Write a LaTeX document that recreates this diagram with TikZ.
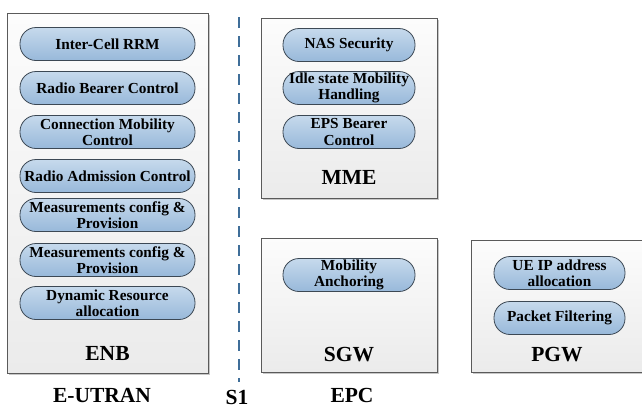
\documentclass[tikz,border=0pt]{standalone}
\usepackage{fontspec}
\setmainfont{Liberation Serif}[BoldFont={Liberation Serif Bold}]
\usetikzlibrary{shadows}
\definecolor{boxline}{HTML}{5A5A5A}
\definecolor{boxtop}{HTML}{FCFCFC}
\definecolor{boxbot}{HTML}{EBEBEB}
\definecolor{pilltop}{HTML}{C6D9EC}
\definecolor{pillbot}{HTML}{98B9DA}
\definecolor{pillline}{HTML}{3C4854}
\definecolor{linkblue}{HTML}{3F6E99}
\begin{document}
\begin{tikzpicture}[x=1pt,y=-1pt,
  unit/.style={draw=boxline, line width=0.9pt, top color=boxtop, bottom color=boxbot,
    drop shadow={shadow xshift=1.6pt, shadow yshift=-1.6pt, opacity=0.22, fill=black},
    inner sep=0pt},
  func/.style={draw=pillline, line width=0.8pt, top color=pilltop, bottom color=pillbot,
    rounded corners=16pt, minimum height=33pt, inner sep=0pt, align=center,
    font=\rmfamily\bfseries\fontsize{15.3}{16.3}\selectfont},
  title/.style={inner sep=0pt, font=\rmfamily\bfseries\fontsize{21.5}{24}\selectfont}]
\useasboundingbox (0,0) rectangle (642,408);
\clip (0,0) rectangle (642,408);

% network element containers
\node[unit, minimum width=201pt, minimum height=360pt] (enb) at (107.5,193) {};
\node[unit, minimum width=176pt, minimum height=180pt] (mme) at (349,108) {};
\node[unit, minimum width=176pt, minimum height=134pt] (sgw) at (349,305) {};
\node[unit, minimum width=172pt, minimum height=132pt] (pgw) at (557,306) {};

% eNB functions
\begin{scope}[every node/.style={func, minimum width=175pt}]
\node (rrm)  at (107.5,44)  {Inter-Cell RRM};
\node (rbc)  at (107.5,88)  {Radio Bearer Control};
\node (cmc)  at (107.5,132) {Connection Mobility\\Control};
\node (rac)  at (107.5,176) {Radio Admission Control};
\node (mcp1) at (107.5,215) {Measurements config \&\\Provision};
\node (mcp2) at (107.5,260) {Measurements config \&\\Provision};
\node (dra)  at (107.5,303) {Dynamic Resource\\allocation};
\end{scope}

% MME functions
\begin{scope}[every node/.style={func, minimum width=132pt}]
\node (nas)  at (349,45)  {NAS Security};
\node (idle) at (349,88)  {Idle state Mobility\\Handling};
\node (eps)  at (349,132) {EPS Bearer\\Control};
\node (anch) at (349,275) {Mobility\\Anchoring};
\end{scope}

% P-GW functions
\begin{scope}[every node/.style={func, minimum width=131pt}]
\node (ueip) at (559.5,273) {UE IP address\\allocation};
\node (pf)   at (559.5,318) {Packet Filtering};
\end{scope}

% container titles
\node[title] (enbt) at (107.5,353) {ENB};
\node[title] (mmet) at (349,177)   {MME};
\node[title] (sgwt) at (349,355)   {SGW};
\node[title] (pgwt) at (557,355)   {PGW};

% domain labels
\node[title] (eutran) at (102,395) {E-UTRAN};
\node[title] (epc)    at (352,395) {EPC};
\node[title] (s1)     at (237,397) {S1};

% S1 reference line
\coordinate (s1a) at (239,17);
\coordinate (s1b) at (239,382);
\draw[linkblue, line width=1.6pt, dash pattern=on 11pt off 8pt] (s1a) -- (s1b);
\end{tikzpicture}
\end{document}
